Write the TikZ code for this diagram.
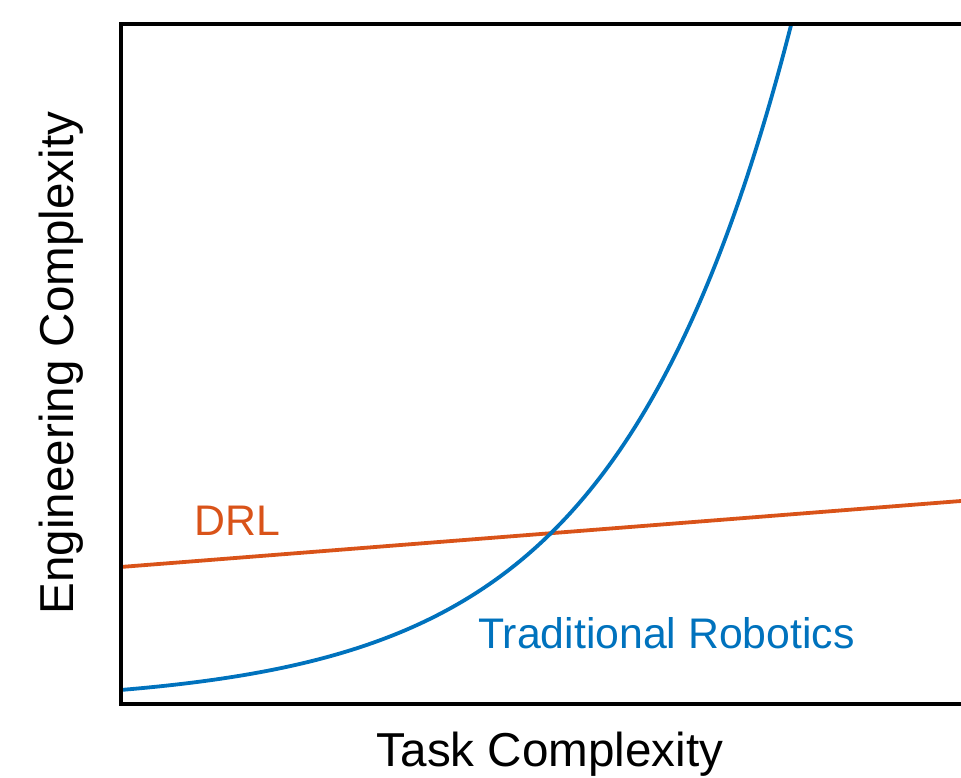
\documentclass[tikz,border=0pt]{standalone}
\usepackage{fontspec}
\setmainfont{Liberation Sans}
\definecolor{drlorange}{HTML}{D95319}
\definecolor{robblue}{HTML}{0072BD}
\begin{document}
\begin{tikzpicture}[x=1pt, y=1pt]
        \def\axisleft{120.5}
        \def\axisbottom{73}
        \def\axistop{753}
        \tikzstyle{axis}=[black, line width=4pt]
        \tikzstyle{curve}=[line width=3.8pt]
        \tikzstyle{axistext}=[inner sep=0pt, font=\fontsize{47.6}{56}\selectfont]
        \tikzstyle{curvetext}=[inner sep=0pt, anchor=base west, font=\fontsize{42.8}{50}\selectfont]
        
        \useasboundingbox (0, 0) rectangle (961, 777);
        
        % Curves
        \begin{scope}
            \clip (\axisleft, \axisbottom) rectangle (961, \axistop);
            \draw [curve, drlorange] (\axisleft, 210) -- (961, 276);
            \draw [curve, robblue, shift={(\axisleft, \axisbottom)}] plot [domain=0:680, samples=120, smooth]
                ({\x}, {-0.5 + 14.5 * exp(0.005732 * \x)});
        \end{scope}
        
        % Axes
        \draw [axis] (961, \axistop) -- (\axisleft, \axistop) -- (\axisleft, \axisbottom) -- (961, \axisbottom);
        
        % Labels
        \draw node at (550, 10.5) [axistext, anchor=base] (task_label) {Task Complexity};
        \draw node at (73, 414) [axistext, anchor=base, rotate=90] (eng_label) {Engineering Complexity};
        
        \draw node at (194, 241) [curvetext, drlorange] (drl_label) {DRL};
        \draw node at (478, 129) [curvetext, robblue] (trad_label) {Traditional Robotics};
        
    \end{tikzpicture}
\end{document}
